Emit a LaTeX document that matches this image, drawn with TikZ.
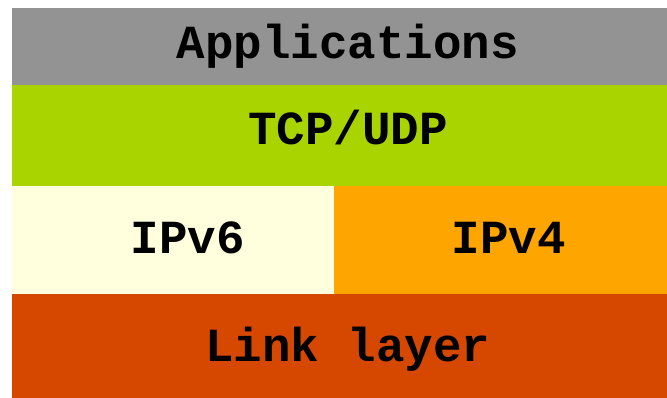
\documentclass[tikz,border=0pt]{standalone}
\usepackage{fontspec}
\setmonofont{Liberation Mono}
\definecolor{appgray}{RGB}{147,147,147}
\definecolor{tcpgreen}{RGB}{170,212,0}
\definecolor{v6yellow}{RGB}{255,255,221}
\definecolor{v4orange}{RGB}{255,165,0}
\definecolor{linkred}{RGB}{214,72,0}
\tikzset{
  layerlabel/.style={anchor=base, inner sep=0pt, font=\ttfamily\bfseries\fontsize{47.5}{47.5}\selectfont, text=black},
}
\begin{document}
\begin{tikzpicture}[x=1pt,y=1pt]
\useasboundingbox (0,0) rectangle (667,398);
\fill[white] (0,0) rectangle (667,398);
\fill[appgray] (12,390) rectangle (667,313);
\fill[tcpgreen] (12,313) rectangle (667,212);
\fill[v6yellow] (12,212) rectangle (334,104);
\fill[v4orange] (334,212) rectangle (667,104);
\fill[linkred] (12,104) rectangle (667,0);
\node[layerlabel] (app) at (348,339) {Applications};
\node[layerlabel] (tcp) at (348,253) {TCP/UDP};
\node[layerlabel] (v6) at (188,144) {IPv6};
\node[layerlabel] (v4) at (509,144) {IPv4};
\node[layerlabel] (link) at (348,36) {Link layer};
\end{tikzpicture}
\end{document}
